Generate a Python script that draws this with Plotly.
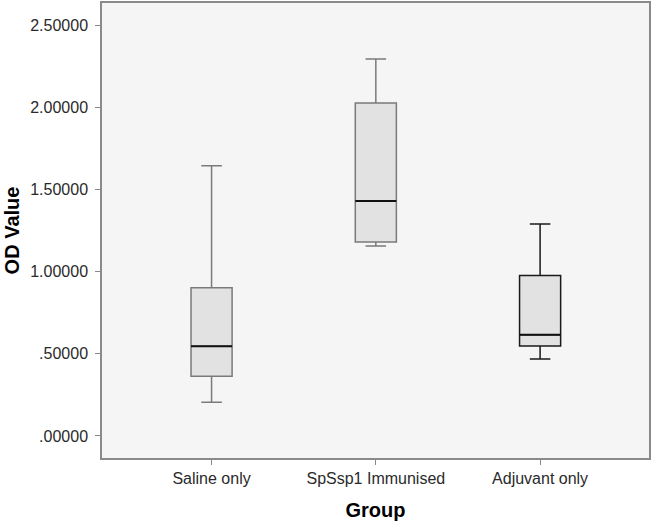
import plotly.graph_objects as go

groups = ["Saline only", "SpSsp1 Immunised", "Adjuvant only"]
lower_whisker = [0.205, 1.156, 0.468]
q1 = [0.363, 1.180, 0.547]
median = [0.546, 1.429, 0.616]
q3 = [0.902, 2.026, 0.977]
upper_whisker = [1.644, 2.293, 1.290]
whisker_colors = ["#7a7a7a", "#7a7a7a", "#1a1a1a"]

y_ticks = [0, 0.5, 1.0, 1.5, 2.0, 2.5]
y_tick_text = [".00000", ".50000", "1.00000", "1.50000", "2.00000", "2.50000"]

fig = go.Figure()

for i, g in enumerate(groups):
    fig.add_trace(go.Box(
        x=[g], q1=[q1[i]], median=[median[i]], q3=[q3[i]],
        lowerfence=[lower_whisker[i]], upperfence=[upper_whisker[i]],
        fillcolor="#e2e2e2", line=dict(color=whisker_colors[i], width=1.5),
        width=0.25, whiskerwidth=0.5, boxpoints=False, showlegend=False,
        hoverinfo="skip",
    ))
    # black median line drawn as a flat box on top
    fig.add_trace(go.Box(
        x=[g], q1=[median[i]], median=[median[i]], q3=[median[i]],
        lowerfence=[median[i]], upperfence=[median[i]],
        fillcolor="rgba(0,0,0,0)", line=dict(color="#111111", width=2),
        width=0.25, whiskerwidth=0, boxpoints=False, showlegend=False,
        hoverinfo="skip",
    ))

fig.update_layout(
    width=653, height=524,
    margin=dict(l=102, r=4, t=3, b=66),
    paper_bgcolor="white", plot_bgcolor="#f5f5f5",
    boxmode="overlay",
    font=dict(family="Liberation Sans, Arial, sans-serif", size=16, color="#2a2a2a"),
)

fig.update_xaxes(
    type="category", categoryorder="array", categoryarray=groups,
    range=[-0.667, 2.663], automargin=False,
    showgrid=False, zeroline=False,
    showline=True, linecolor="#8a8a8a", linewidth=1.5, mirror=True,
    ticks="outside", ticklen=5, tickcolor="#8a8a8a", tickwidth=1,
    title=dict(text="<b>Group</b>", font=dict(size=20, color="#000000"), standoff=17),
)
fig.update_yaxes(
    range=[-0.134, 2.634], automargin=False,
    tickvals=y_ticks, ticktext=y_tick_text, ticklabelstandoff=4,
    showgrid=False, zeroline=False,
    showline=True, linecolor="#8a8a8a", linewidth=1.5, mirror=True,
    ticks="outside", ticklen=5, tickcolor="#8a8a8a", tickwidth=1,
    title=dict(text="<b>OD Value</b>", font=dict(size=20, color="#000000"), standoff=5),
)

fig.write_html("out.html", config={"displayModeBar": False},
               post_script="document.body.style.margin='0';")
